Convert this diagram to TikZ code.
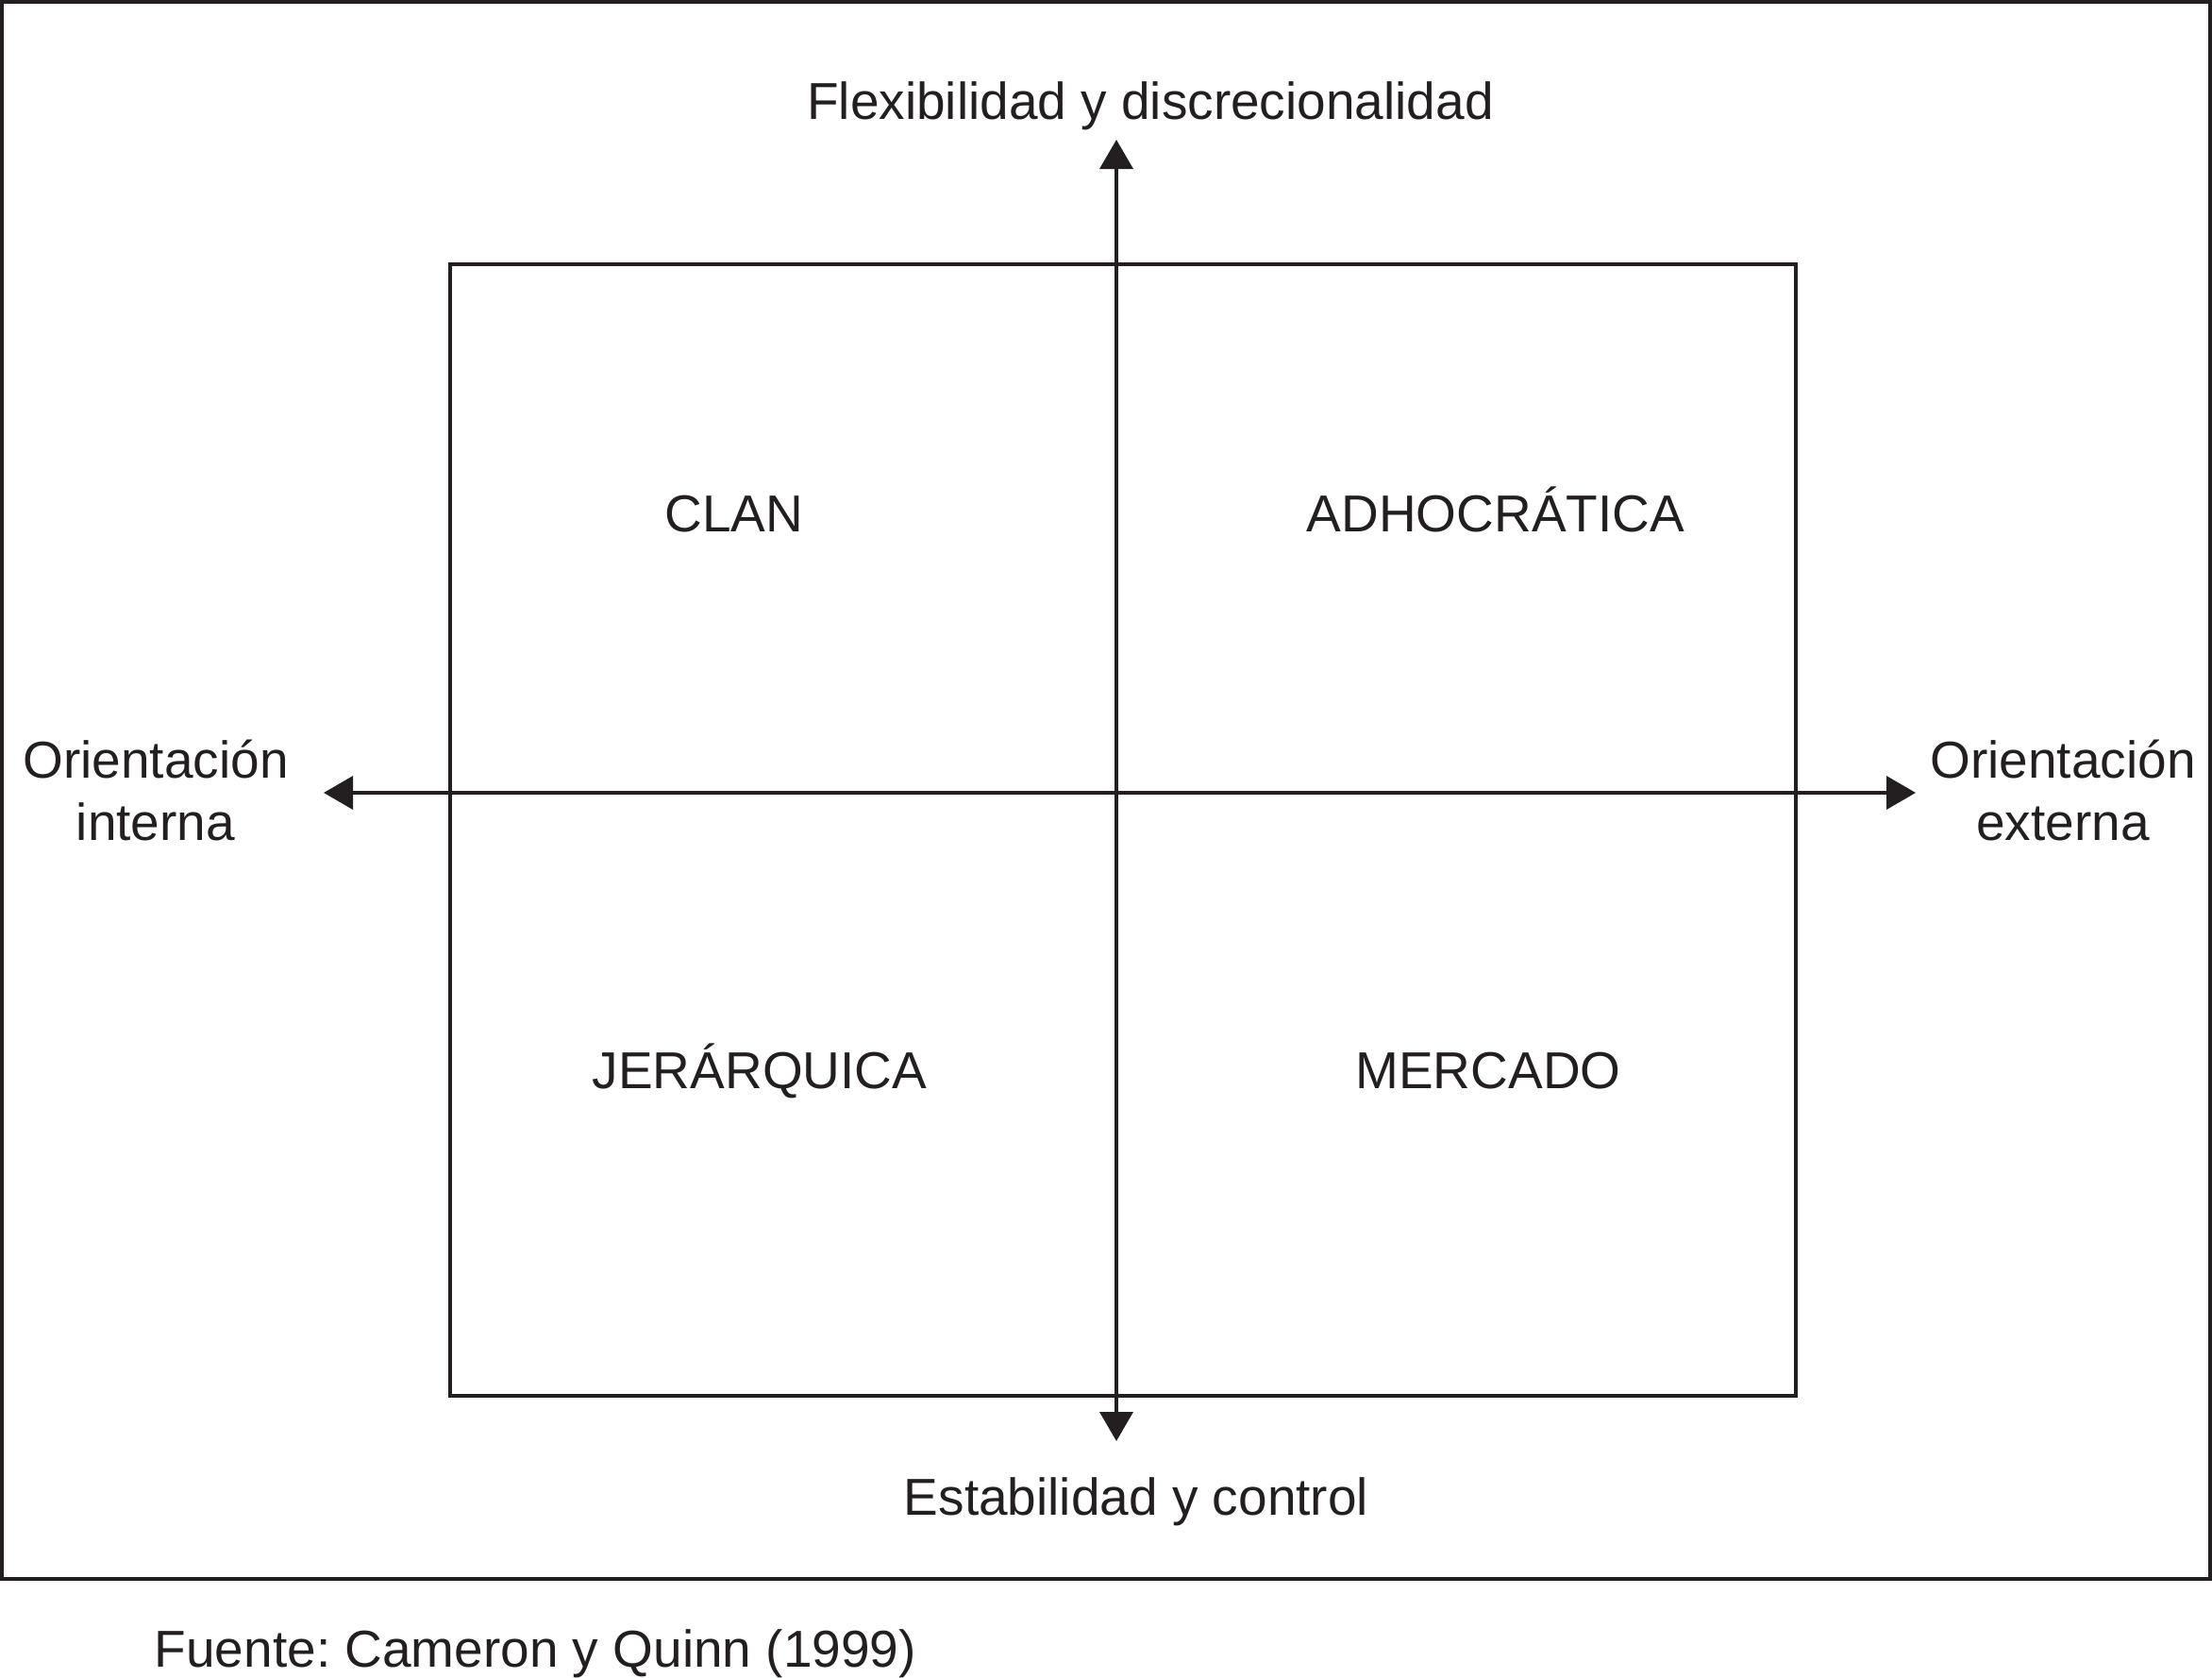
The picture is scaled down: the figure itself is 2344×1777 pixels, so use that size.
\documentclass[tikz,border=0pt]{standalone}
\usepackage{fontspec}
\setmainfont{Liberation Sans}
\usetikzlibrary{arrows.meta}
\definecolor{ink}{HTML}{231F20}
\frenchspacing
\begin{document}
\begin{tikzpicture}[x=0.25pt,y=-0.25pt,
  lbl/.style={anchor=base,inner sep=0pt,text=ink,font=\fontsize{13.75}{16.5}\selectfont},
  axis/.style={draw=ink,line width=0.9pt,{Triangle[length=7.75pt,width=8.75pt]}-{Triangle[length=7.75pt,width=8.75pt]}},
  frame/.style={draw=ink,line width=1.1pt},
  quad/.style={draw=ink,line width=0.9pt}]
\useasboundingbox (0,0) rectangle (2344,1777);
% outer frame
\draw[frame] (2,2) rectangle (2342,1673);
% inner square
\draw[quad] (477,280) rectangle (1903,1479);
% axis ends
\coordinate (top) at (1183,148);
\coordinate (bottom) at (1183,1527);
\coordinate (left) at (343,840);
\coordinate (right) at (2030,840);
\draw[axis] (bottom) -- (top);
\draw[axis] (left) -- (right);
% labels
\node[lbl] (flex) at (1219,126) {Flexibilidad y discrecionalidad};
\node[lbl] (estab) at (1204,1605) {Estabilidad y control};
\node[lbl,align=center] (oint) at (165,890) {Orientación\\interna};
\node[lbl,align=center] (oext) at (2186,890) {Orientación\\externa};
\node[lbl] (clan) at (778,563) {CLAN};
\node[lbl] (adho) at (1585,563) {ADHOCRÁTICA};
\node[lbl] (jer) at (805,1153) {JERÁRQUICA};
\node[lbl] (merc) at (1577,1153) {MERCADO};
\node[lbl,anchor=base west] (fuente) at (163,1766) {Fuente: Cameron y Quinn (1999)};
\end{tikzpicture}
\end{document}
